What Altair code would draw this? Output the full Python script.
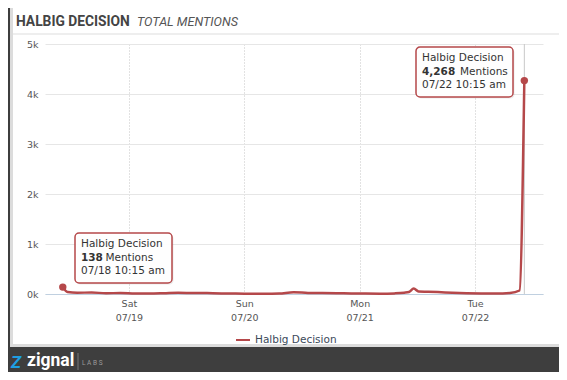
import altair as alt
import pandas as pd

# ---------------- data ----------------
series_name = "Halbig Decision"
times = [
    "2014-07-18T10:15:00", "2014-07-18T11:15:00", "2014-07-18T13:15:00", "2014-07-18T16:15:00",
    "2014-07-18T19:15:00", "2014-07-18T22:15:00", "2014-07-19T01:15:00", "2014-07-19T04:15:00",
    "2014-07-19T07:15:00", "2014-07-19T10:15:00", "2014-07-19T13:15:00", "2014-07-19T16:15:00",
    "2014-07-19T19:15:00", "2014-07-19T22:15:00", "2014-07-20T01:15:00", "2014-07-20T04:15:00",
    "2014-07-20T07:15:00", "2014-07-20T10:15:00", "2014-07-20T13:15:00", "2014-07-20T16:15:00",
    "2014-07-20T19:15:00", "2014-07-20T22:15:00", "2014-07-21T01:15:00", "2014-07-21T04:15:00",
    "2014-07-21T07:15:00", "2014-07-21T09:15:00", "2014-07-21T10:15:00", "2014-07-21T11:15:00",
    "2014-07-21T12:15:00", "2014-07-21T14:15:00", "2014-07-21T16:15:00", "2014-07-21T19:15:00",
    "2014-07-21T22:15:00", "2014-07-22T01:15:00", "2014-07-22T04:15:00", "2014-07-22T07:15:00",
    "2014-07-22T09:15:00", "2014-07-22T10:15:00",
]
mentions = [
    138, 40, 25, 30,
    15, 20, 10, 8,
    15, 25, 20, 18,
    12, 10, 6, 5,
    10, 35, 22, 18,
    15, 12, 8, 6,
    12, 25, 40, 110,
    50, 45, 38, 25,
    15, 10, 8, 20,
    70, 4268,
]
tooltip_times = ["07/18 10:15 am", "07/22 10:15 am"]
day_ticks = [19, 20, 21, 22]
y_ticks = [0, 1000, 2000, 3000, 4000, 5000]

df = pd.DataFrame({"time": times, "mentions": mentions, "series": series_name})
ends = df.iloc[[0, -1]].reset_index(drop=True)
last = df.iloc[[-1]].reset_index(drop=True)

RED = "#b5484a"
FONT = "DejaVu Sans"
one = pd.DataFrame({"k": [0]})

x_scale = alt.Scale(domain=[
    alt.DateTime(year=2014, month=7, date=18, hours=6, minutes=33),
    alt.DateTime(year=2014, month=7, date=22, hours=14, minutes=8),
])
y_scale = alt.Scale(domain=[0, 5000])

x_axis = alt.Axis(
    values=[alt.DateTime(year=2014, month=7, date=d) for d in day_ticks],
    labelExpr="[timeFormat(datum.value, '%a'), timeFormat(datum.value, '%m/%d')]",
    title=None, grid=True, gridDash=[1, 2], gridColor="#c4c4c4", gridWidth=1,
    domainColor="#c0d0e0", domainWidth=1, ticks=False, labelPadding=4,
    labelLineHeight=14, labelFont=FONT, labelFontSize=9.5, labelColor="#555555",
)
y_axis = alt.Axis(
    values=y_ticks, labelExpr="(datum.value / 1000) + 'k'", title=None,
    grid=True, gridColor="#e6e6e6", domain=False, ticks=False, labelPadding=7,
    labelFont=FONT, labelFontSize=9.5, labelColor="#555555",
)


def rect(x, x2, y, y2, **kw):
    return alt.Chart(one).mark_rect(**kw).encode(
        x=alt.value(x), x2=alt.value(x2), y=alt.value(y), y2=alt.value(y2))


def text(s, x, y, **kw):
    base = dict(font=FONT, fontSize=10.5, color="#333333", align="left", baseline="alphabetic")
    base.update(kw)
    return alt.Chart(pd.DataFrame({"t": [s]})).mark_text(**base).encode(
        x=alt.value(x), y=alt.value(y), text="t:N")


# frame decorations
dark = "#3e3e3e"
decor = [
    rect(-37, -35, -40, 330, color=dark),
    rect(-35, -32, -40, 303, color="#dcdcdc"),
    rect(-35, 514, 300, 303, color="#dcdcdc"),
    rect(-37, 514, 303, 330, color=dark),
    rect(-32, 514, -10.5, -9.5, color="#dddddd"),
    text("HALBIG DECISION", -29, -18, font="Roboto", fontWeight="bold",
         fontSize=13.8, color="#444444"),
    text("TOTAL MENTIONS", 92, -18, font="Roboto", fontStyle="italic",
         fontSize=12.6, color="#555555"),
    text("Z", -29, 324, font="Roboto", fontWeight="bold", fontStyle="italic", fontSize=17,
         color="#1e9fe3", align="center"),
    text("zignal", -18, 322, font="Roboto", fontWeight="bold", fontSize=17.5, color="#ffffff"),
    rect(32.5, 33.5, 309, 326, color="#777777"),
    text("L A B S", 37, 321, font="Roboto", fontSize=6.5, color="#9a9a9a"),
]

crosshair = alt.Chart(last).mark_rule(color="#c8c8c8", strokeWidth=1).encode(
    x=alt.X("time:T", scale=x_scale, axis=x_axis))

line = alt.Chart(df).mark_line(interpolate="monotone", strokeWidth=2.5).encode(
    x=alt.X("time:T", scale=x_scale, axis=x_axis),
    y=alt.Y("mentions:Q", scale=y_scale, axis=y_axis),
    color=alt.Color("series:N", scale=alt.Scale(domain=[series_name], range=[RED]),
                    legend=alt.Legend(title=None, orient="none", legendX=190, legendY=288,
                                      symbolType="stroke", symbolSize=196, symbolStrokeWidth=2,
                                      labelFont=FONT, labelFontSize=10.5, labelColor="#3b4a5a")),
)
points = alt.Chart(ends).mark_point(filled=True, size=55, opacity=1, color=RED).encode(
    x=alt.X("time:T", scale=x_scale), y=alt.Y("mentions:Q", scale=y_scale))

# tooltip boxes
def tooltip(bx, by, num, when):
    w, h = 97, 50
    return [
        rect(bx + 1.5, bx + w + 1.5, by + 1.5, by + h + 1.5, color="#000000", opacity=0.08,
             cornerRadius=4),
        rect(bx, bx + w, by, by + h, fill="#ffffff", fillOpacity=0.95, stroke=RED,
             strokeWidth=1.5, cornerRadius=4),
        text(series_name, bx + 6, by + 14),
        text(num, bx + 6, by + 28, font="DejaVu Sans", fontWeight="bold"),
        text("Mentions", bx + 6 + (len(num) * 6.8) + 4, by + 28),
        text(when, bx + 6, by + 41),
    ]

tips = tooltip(30, 189, f"{mentions[0]:,}", tooltip_times[0]) + \
       tooltip(371, 3, f"{mentions[-1]:,}", tooltip_times[1])

chart = alt.layer(*decor, crosshair, line, points, *tips).properties(
    width=498, height=250,
    padding={"left": 37, "top": 36, "right": 16, "bottom": 78},
    autosize=alt.AutoSizeParams(type="none"),
    background="#ffffff",
).configure_view(stroke=None)

chart.save("out.html", embed_options={"renderer": "svg", "actions": False})
